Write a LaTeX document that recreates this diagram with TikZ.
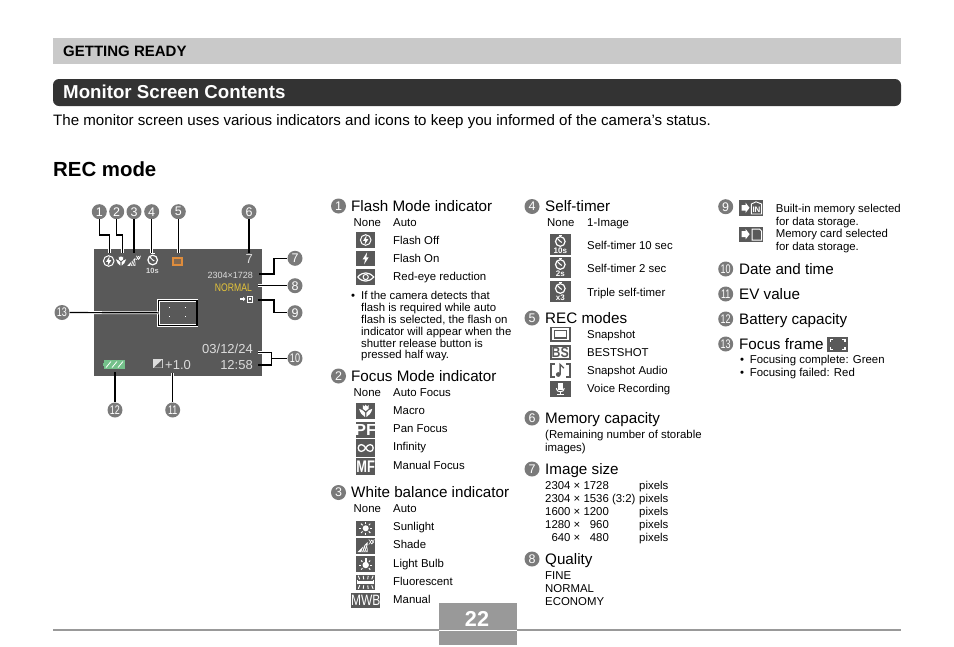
\documentclass[tikz,border=0pt]{standalone}
\usepackage{fontspec}
\setmainfont{Liberation Sans}
\usepackage{xcolor}
\usepackage{tikz}
\definecolor{scrn}{HTML}{595959}
\definecolor{bandc}{HTML}{C9C9C9}
\definecolor{titlec}{HTML}{333333}
\definecolor{tagg}{HTML}{7A7A7A}
\definecolor{pageg}{HTML}{999999}
\definecolor{normalc}{HTML}{E6C53A}
\definecolor{recc}{HTML}{DE8C3C}
\definecolor{battc}{HTML}{74C08A}
\definecolor{lcdg}{HTML}{DCDCDC}
\newcommand{\pxfont}[1]{\fontsize{#1}{#1}\selectfont}
\tikzset{
  secname/.style={anchor=base west, inner sep=0pt, font=\pxfont{15.2}},
  itemname/.style={anchor=base west, inner sep=0pt, font=\pxfont{11.4}},
  notetext/.style={anchor=base west, inner sep=0pt, font=\pxfont{11.4}},
  lcdtext/.style={anchor=base east, inner sep=0pt, text=lcdg},
  tagc/.style={circle, fill=tagg, text=white, inner sep=0pt, minimum size=15pt, font=\pxfont{12.5}},
  iconbg/.style={fill=scrn},
  lead/.style={draw=white, double=black, double distance=1.2pt, line width=.8pt},
  wline/.style={draw=white, line width=1pt},
  dline/.style={draw=scrn, line width=1.1pt},
  letter/.style={inner sep=0pt, font=\bfseries\pxfont{16}},
  flashoff/.pic={
    \draw[wline] (0,0) circle (5.3);
    \fill[white] (1,-5) -- (-2.6,.8) -- (-.4,.8) -- (-1.2,5) -- (2.6,-.8) -- (.4,-.8) -- cycle;
  },
  flashon/.pic={
    \fill[white] (1.4,-6) -- (-3,1) -- (-.6,1) -- (-1.6,6) -- (3,-1) -- (.6,-1) -- cycle;
  },
  redeye/.pic={
    \draw[wline, line width=1.2pt] (-8,0) .. controls (-3,-5.5) and (3,-5.5) .. (8,0) .. controls (3,5.5) and (-3,5.5) .. (-8,0);
    \draw[wline] (0,0) circle (2.6);
  },
  macroicon/.pic={
    \fill[white] (-2.6,-5.5) -- (-1.2,-4) -- (0,-5.8) -- (1.2,-4) -- (2.6,-5.5) -- (2.6,-2) -- (0,0) -- (-2.6,-2) -- cycle;
    \fill[white] (-6,-2) .. controls (-5,2) and (-3,4) .. (-.6,5.5) -- (-.6,1.5) .. controls (-2,-.5) and (-4,-1.5) .. (-6,-2);
    \fill[white] (6,-2) .. controls (5,2) and (3,4) .. (.6,5.5) -- (.6,1.5) .. controls (2,-.5) and (4,-1.5) .. (6,-2);
  },
  infinityicon/.pic={
    \draw[wline, line width=1.3pt] (0,0) .. controls (-2,-4.5) and (-7.5,-4.5) .. (-7.5,0) .. controls (-7.5,4.5) and (-2,4.5) .. (0,0) .. controls (2,-4.5) and (7.5,-4.5) .. (7.5,0) .. controls (7.5,4.5) and (2,4.5) .. (0,0);
  },
  sunicon/.pic={
    \fill[white] (0,0) circle (3);
    \foreach \ang in {0,45,...,315}
      \draw[wline] (\ang:4.4) -- (\ang:6.6);
  },
  shadeicon/.pic={
    \fill[white] (-8,6) -- (2,-4) -- (2,6) -- cycle;
    \foreach \xx in {-4,-2,0}
      \draw[scrn, line width=.6pt] (\xx,6) -- (\xx+2.4,-1);
    \draw[wline, line width=.8pt] (6,-4) circle (1.8);
    \draw[wline, line width=.6pt] (3,-6.5) -- (4.2,-5.4) (8.8,-6.5) -- (7.8,-5.4) (3,-1.5) -- (4.2,-2.6);
  },
  bulbicon/.pic={
    \fill[white] (0,1) circle (3.2);
    \fill[white] (-1.2,-6) rectangle (1.2,-1);
    \foreach \ang in {0,45,135,180,225,270,315}
      \draw[wline] ([shift={(0,1)}]\ang:4.6) -- ([shift={(0,1)}]\ang:6.4);
  },
  fluoricon/.pic={
    \fill[white] (-8,-1.5) rectangle (8,1.5);
    \draw[wline, line width=.7pt] (-8,-2) -- (-8,2) (8,-2) -- (8,2);
    \foreach \xx/\dd in {-6/-1.4,-2/-.5,2/.5,6/1.4} {
      \draw[wline, line width=.9pt] (\xx,-3) -- (\xx+\dd,-6.5);
      \draw[wline, line width=.9pt] (\xx,3) -- (\xx+\dd,6.5);
    }
  },
  timericon/.pic={
    \draw[wline, line width=1.2pt] (0,0) circle (4.8);
    \fill[white] (-1.8,-7) rectangle (1.8,-5.6);
    \draw[wline] (0,0) -- (-2.8,-3) (0,0) -- (1.6,.9);
  },
  cardicon/.pic={
    \fill[iconbg] (-12.2,-7.6) rectangle (12.2,7.6);
    \fill[white] (-9.6,-3) -- (-5.6,-3) -- (-5.6,-5.2) -- (-1.6,0) -- (-5.6,5.2) -- (-5.6,3) -- (-9.6,3) -- cycle;
    \draw[wline] (1,-5) -- (8.5,-5) -- (10.5,-3) -- (10.5,6) -- (1,6) -- cycle;
  },
  recsnap/.pic={
    \draw[dline, line width=1.6pt] (-9.4,-6.7) rectangle (9.4,6.7);
    \draw[dline, line width=1.4pt] (-6,-3.6) rectangle (6,3.6);
  },
  recaudio/.pic={
    \draw[dline, line width=1.6pt] (-5.6,-6.7) -- (-9.4,-6.7) -- (-9.4,6.7) -- (-5.6,6.7);
    \draw[dline, line width=1.6pt] (5.6,-6.7) -- (9.4,-6.7) -- (9.4,6.7) -- (5.6,6.7);
    \fill[scrn] (-2,4) circle (2.4);
    \draw[dline, line width=1.3pt] (-.2,4) -- (-.2,-6) -- (3.6,-2.4);
  },
  micicon/.pic={
    \fill[white] (-2.2,-5.8) rectangle (2.2,1.4);
    \draw[wline] (-4,-.6) .. controls (-4,4.2) and (4,4.2) .. (4,-.6);
    \draw[wline] (0,3.2) -- (0,5.8) (-3.4,5.8) -- (3.4,5.8);
  },
  focusicon/.pic={
    \fill[iconbg] (-10.4,-7.8) rectangle (10.4,7.8);
    \draw[wline, line width=1.3pt] (-7.4,-2.6) -- (-7.4,-4.8) -- (-4.6,-4.8);
    \draw[wline, line width=1.3pt] (7.4,-2.6) -- (7.4,-4.8) -- (4.6,-4.8);
    \draw[wline, line width=1.3pt] (-7.4,2.6) -- (-7.4,4.8) -- (-4.6,4.8);
    \draw[wline, line width=1.3pt] (7.4,2.6) -- (7.4,4.8) -- (4.6,4.8);
  },
}
\begin{document}
\begin{tikzpicture}[x=1pt,y=-1pt]
  \useasboundingbox (0,0) rectangle (954,646);

  % page bands
  \fill[bandc] (53,38) rectangle (901,64);
  \node[anchor=base west, inner sep=0pt, font=\bfseries\pxfont{15}] (getready) at (63,56) {GETTING READY};
  \fill[titlec, rounded corners=6pt] (53,79) rectangle (901,106);
  \node[anchor=base west, inner sep=0pt, text=white, font=\bfseries\pxfont{18.7}] (title) at (63,98.5) {Monitor Screen Contents};
  \node[anchor=base west, inner sep=0pt, font=\pxfont{15.1}] (intro) at (53,125) {The monitor screen uses various indicators and icons to keep you informed of the camera’s status.};
  \node[anchor=base west, inner sep=0pt, font=\bfseries\pxfont{20.4}] (recmode) at (53,176) {REC mode};

  % page foot
  \draw[pageg, line width=1.5pt] (53,630) -- (901,630);
  \fill[pageg] (439,603) rectangle (517,645);
  \draw[white, line width=1pt] (439,630) -- (517,630);
  \node[inner sep=0pt, text=white, font=\bfseries\pxfont{21.6}] (pagenum) at (477,618.5) {22};

  % screen
  \fill[scrn] (94,249) rectangle (262,376);
  \pic at (108.7,261) {flashoff};
  \pic[scale=.85] at (121,261) {macroicon};
  \pic[scale=.8] at (133.7,261) {shadeicon};
  \pic at (152.7,260) {timericon};
  \node[inner sep=0pt, text=lcdg, font=\bfseries\pxfont{7.5}] (scr10s) at (152.5,270.5) {10s};
  \fill[recc] (172.3,257.3) rectangle (182.7,266);
  \fill[scrn!70!recc] (174.3,259.3) rectangle (180.7,264);
  \node[lcdtext, font=\pxfont{13}] (scrshots) at (253,263) {7};
  \node[lcdtext, font=\pxfont{9}] (scrsize) at (253,278) {2304×1728};
  \node[lcdtext, text=normalc, font=\pxfont{8.8}] (scrqual) at (252,291) {\scalebox{.98}[1.25]{NORMAL}};
  \fill[white] (240,298.2) -- (243,298.2) -- (243,296.8) -- (245.4,299) -- (243,301.2) -- (243,299.8) -- (240,299.8) -- cycle;
  \draw[white, line width=.8pt] (247,296) rectangle (252.4,302.5);
  \fill[white] (248.6,298) rectangle (250.8,300.4);
  \node[lcdtext, font=\pxfont{13}] (scrdate) at (253,353.5) {03/12/24};
  \node[lcdtext, font=\pxfont{13}] (scrtime) at (253,369) {12:58};
  % focus dots
  \foreach \xx/\yy in {169.3/307.3,185.3/307.3,169.3/316.7,185.3/316.7}
    \fill[white] (\xx-.7,\yy-.7) rectangle (\xx+.7,\yy+.7);
  % ev and battery
  \fill[lcdg] (153.3,359.3) rectangle (162.7,368.3);
  \fill[scrn] (153.9,367.6) -- (162,360) -- (162,367.6) -- cycle;
  \node[anchor=base west, inner sep=0pt, text=lcdg, font=\pxfont{13}] (screv) at (165,369) {+1.0};
  \fill[battc] (104,360) rectangle (125,369);
  \fill[battc] (102.7,362.6) rectangle (104,366.4);
  \draw[white, line width=.8pt] (106,367.5) -- (111,361.5) (112,367.5) -- (117,361.5) (118,367.5) -- (123,361.5);

  % tags round the screen
  \foreach \i/\xx/\yy in {1/99.3/211.7,2/116.7/211.7,3/134/211.7,4/151.7/211.7,5/178.3/211.7,6/249/211.7,7/295/258.3,8/295/285.7,9/295/312.7}
    \node[tagc] (n\i) at (\xx,\yy) {\i};
  \foreach \i/\xx/\yy in {10/295/358.3,11/172.7/410,12/115/410,13/62/312.5}
    \node[tagc] (n\i) at (\xx,\yy) {\scalebox{.72}[1]{\i}};

  % connectors
  \coordinate (e1) at (109.3,253);
  \coordinate (m1) at (109.3,235);
  \coordinate (e2) at (122.7,253);
  \coordinate (m2) at (122.7,235);
  \coordinate (e3) at (134,253);
  \coordinate (e4) at (151.7,253);
  \coordinate (e5) at (178.3,253);
  \coordinate (e6) at (249,253);
  \coordinate (e7) at (259.3,274);
  \coordinate (m7) at (274,258.3);
  \coordinate (e8) at (258.3,285.7);
  \coordinate (e9) at (258.3,300);
  \coordinate (m9) at (274,312.7);
  \coordinate (e10a) at (258.3,352.3);
  \coordinate (e10b) at (258.3,365);
  \coordinate (m10) at (271.7,358.3);
  \coordinate (e11) at (172.7,373);
  \coordinate (e12) at (115,372);
  \draw[lead] (n1) |- (m1) -- (e1);
  \draw[lead] (n2) |- (m2) -- (e2);
  \draw[lead] (n3) -- (e3);
  \draw[lead] (n4) -- (e4);
  \draw[lead] (n5) -- (e5);
  \draw[lead] (n6) -- (e6);
  \draw[lead] (e7) -| (m7) -- (n7);
  \draw[lead] (e8) -- (n8);
  \draw[lead] (e9) -| (m9) -- (n9);
  \draw[lead] (e10a) -| (m10) |- (e10b);
  \draw[lead] (m10) -- (n10);
  \draw[lead] (e11) -- (n11);
  \draw[lead] (e12) -- (n12);
  \node[lead, outer sep=0pt, minimum width=38.2pt, minimum height=24.9pt, inner sep=0pt] (frame) at (177.8,312.85) {};
  \draw[lead] (n13) -- (frame.west);

  % column 1
  \node[tagc] (h1) at (338.5,206) {1};
  \node[secname] (s1) at (351,211.3) {Flash Mode indicator};
  \node[itemname] (none1) at (353.5,226) {None};
  \foreach \yy/\txt [count=\i] in {226/Auto,244/Flash Off,262/Flash On,280/Red-eye reduction}
    \node[itemname] (a\i) at (393,\yy) {\txt};
  \fill[iconbg] (356.3,232.3) rectangle (375,247.7);
  \pic at (365.7,240) {flashoff};
  \fill[iconbg] (356.3,251) rectangle (375,265.7);
  \pic at (365.7,258.3) {flashon};
  \fill[iconbg] (356.3,269) rectangle (375,285);
  \pic at (365.7,277) {redeye};
  \node[notetext] (bul1) at (351,299) {•};
  \foreach \yy/\txt [count=\i] in {299/If the camera detects that,311/flash is required while auto,323/{flash is selected, the flash on},335/indicator will appear when the,347/shutter release button is,358.5/pressed half way.}
    \node[notetext] (b\i) at (361,\yy) {\txt};

  \node[tagc] (h2) at (338.5,376) {2};
  \node[secname] (s2) at (351,381.3) {Focus Mode indicator};
  \node[itemname] (none2) at (353.5,396) {None};
  \foreach \yy/\txt [count=\i] in {396/Auto Focus,414/Macro,432/Pan Focus,450/Infinity,469/Manual Focus}
    \node[itemname] (c\i) at (393,\yy) {\txt};
  \fill[iconbg] (356.3,403.3) rectangle (375,418.7);
  \pic[scale=1.1] at (365.7,411) {macroicon};
  \fill[iconbg] (356.3,422) rectangle (375,438);
  \node[letter, text=white] (pf) at (365.7,430) {\scalebox{1.05}[1]{PF}};
  \fill[iconbg] (356.3,439.3) rectangle (375,456.7);
  \pic at (365.7,448) {infinityicon};
  \fill[iconbg] (356.3,458) rectangle (375,474.7);
  \node[letter, text=white] (mf) at (365.7,466.4) {\scalebox{.8}[1.05]{MF}};

  \node[tagc] (h3) at (338.5,492.5) {3};
  \node[secname] (s3) at (351,497.6) {White balance indicator};
  \node[itemname] (none3) at (353.5,512) {None};
  \foreach \yy/\txt [count=\i] in {512/Auto,530/Sunlight,548/Shade,567/Light Bulb,585/Fluorescent,603/Manual}
    \node[itemname] (d\i) at (393,\yy) {\txt};
  \fill[iconbg] (356.3,520.7) rectangle (375,536);
  \pic at (365.7,528.3) {sunicon};
  \fill[iconbg] (356.3,538) rectangle (375,554);
  \pic at (365.7,546) {shadeicon};
  \fill[iconbg] (356.3,556) rectangle (375,572);
  \pic at (365.7,564) {bulbicon};
  \fill[iconbg] (356.3,574.7) rectangle (375,590);
  \pic at (365.7,582.3) {fluoricon};
  \fill[iconbg] (351,592.7) rectangle (380.3,608);
  \node[inner sep=0pt, text=white, font=\pxfont{15}] (mwb) at (365.7,600.4) {\scalebox{.8}[1]{MWB}};

  % column 2
  \node[tagc] (h4) at (532,206.5) {4};
  \node[secname] (s4) at (545,211.3) {Self-timer};
  \node[itemname] (none4) at (547,226) {None};
  \foreach \yy/\txt [count=\i] in {226/1-Image,249/Self-timer 10 sec,272/Self-timer 2 sec,296/Triple self-timer}
    \node[itemname] (f\i) at (587,\yy) {\txt};
  \foreach \yy/\lab [count=\i] in {234/10s,257/2s,281/x3} {
    \fill[iconbg] (550,\yy) rectangle (570.7,\yy+20.7);
    \pic at (560.3,\yy+7.5) {timericon};
    \node[inner sep=0pt, text=white, font=\bfseries\pxfont{8}] (tm\i) at (560.3,\yy+16.8) {\lab};
  }

  \node[tagc] (h5) at (532,318) {5};
  \node[secname] (s5) at (545,323.3) {REC modes};
  \foreach \yy/\txt [count=\i] in {338/Snapshot,356/BESTSHOT,374/Snapshot Audio,392/Voice Recording}
    \node[itemname] (g\i) at (587,\yy) {\txt};
  \pic at (560.3,334.2) {recsnap};
  \draw[dline, line width=1.6pt] (551,345.8) rectangle (569.7,359);
  \node[inner sep=0pt, text=scrn, font=\bfseries\pxfont{14.5}] (bs) at (560.3,352.4) {\scalebox{.85}[1]{BS}};
  \pic at (560.3,370.5) {recaudio};
  \fill[iconbg] (550,381) rectangle (570.7,396.7);
  \pic at (560.3,388.8) {micicon};

  \node[tagc] (h6) at (532,418) {6};
  \node[secname] (s6) at (545,423.3) {Memory capacity};
  \node[notetext] (k1) at (545,438) {(Remaining number of storable};
  \node[notetext] (k2) at (545,451) {images)};

  \node[tagc] (h7) at (532,469) {7};
  \node[secname] (s7) at (545,474.3) {Image size};
  \foreach \yy/\txt [count=\i] in {489/2304 × 1728,502/{2304 × 1536 (3:2)},515/1600 × 1200,528/1280 × \phantom{0}960,541/\phantom{0}640 × \phantom{0}480}
    \node[notetext] (m\i) at (545,\yy) {\txt};
  \foreach \yy [count=\i] in {489,502,515,528,541}
    \node[notetext] (px\i) at (639,\yy) {pixels};

  \node[tagc] (h8) at (532,559) {8};
  \node[secname] (s8) at (545,564.3) {Quality};
  \foreach \yy/\txt [count=\i] in {579/FINE,592/NORMAL,605/ECONOMY}
    \node[notetext] (q\i) at (545,\yy) {\txt};

  % column 3
  \node[tagc] (h9) at (725.7,206.7) {9};
  \fill[iconbg] (739,200) rectangle (763.3,215.7);
  \fill[white] (741.5,205) -- (745.5,205) -- (745.5,202.6) -- (749.5,207.8) -- (745.5,213) -- (745.5,210.6) -- (741.5,210.6) -- cycle;
  \draw[wline, line width=.9pt] (751.4,214) -- (751.4,204) -- (756,201.8) -- (761.6,204) -- (761.6,214) -- cycle;
  \node[inner sep=0pt, text=white, font=\bfseries\pxfont{8}] (inlab) at (756.5,209.6) {IN};
  \pic at (751.2,234.2) {cardicon};
  \foreach \yy/\txt [count=\i] in {212/Built-in memory selected,225/for data storage.,237.5/Memory card selected,250/for data storage.}
    \node[notetext] (r\i) at (775.7,\yy) {\txt};

  \foreach \i/\yy/\txt in {10/269/Date and time,11/294/EV value,12/319/Battery capacity,13/344/Focus frame} {
    \node[tagc] (h\i) at (725.7,\yy) {\scalebox{.72}[1]{\i}};
    \node[secname] (s\i) at (739,\yy+5.3) {\txt};
  }
  \pic at (837.6,344.5) {focusicon};
  \foreach \yy/\txt [count=\i] in {363/Focusing complete: Green,376/Focusing failed: Red} {
    \node[notetext] (bu\i) at (740,\yy) {•};
    \node[notetext] (t\i) at (749.7,\yy) {\txt};
  }
\end{tikzpicture}
\end{document}
